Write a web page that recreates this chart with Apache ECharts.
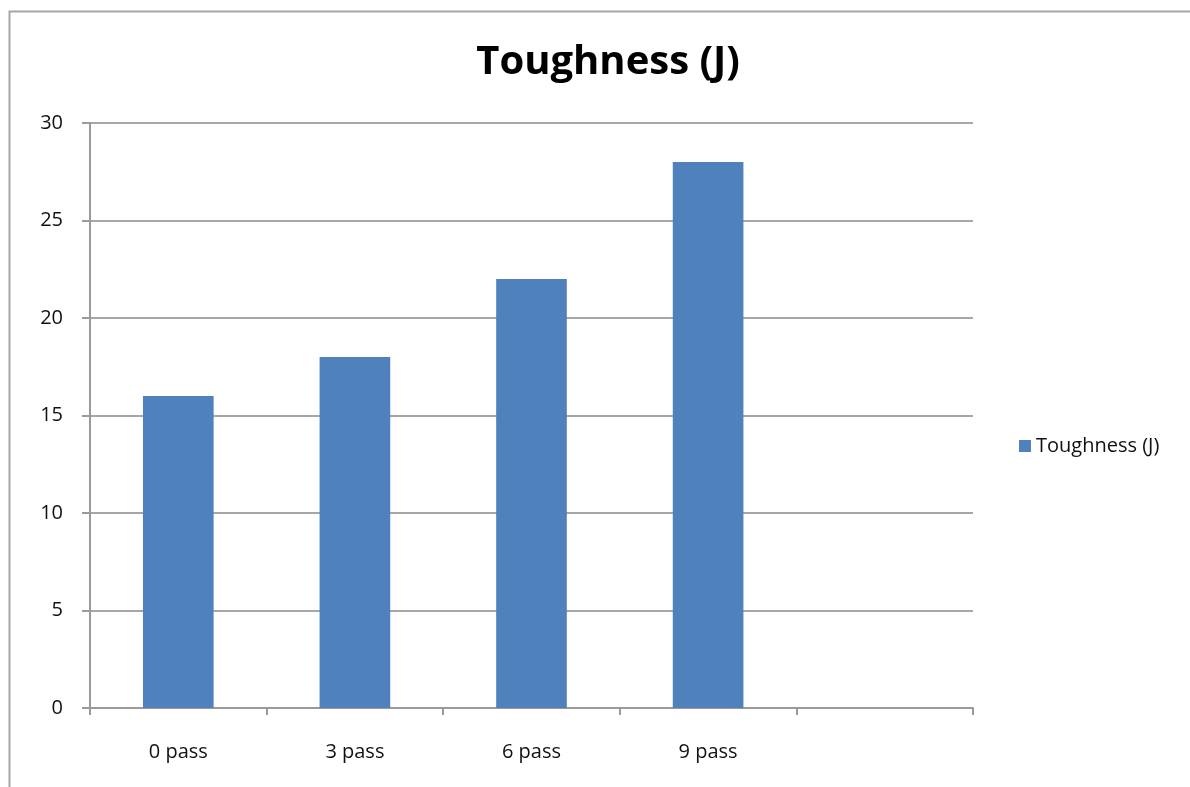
<!DOCTYPE html>
<html>
<head>
<meta charset="utf-8">
<script src="https://cdn.jsdelivr.net/npm/echarts@6/dist/echarts.min.js"></script>
<style>
html,body{margin:0;padding:0;background:#fff;}
#chart{width:1190px;height:787px;}
</style>
</head>
<body>
<div id="chart"></div>
<script>
const categories = ['0 pass', '3 pass', '6 pass', '9 pass', ''];
const toughness = [16, 18, 22, 28, null];
const seriesName = 'Toughness (J)';
const titleText = 'Toughness (J)';

const chart = echarts.init(document.getElementById('chart'));
const font = '"Open Sans", Lato, sans-serif';
chart.setOption({
  animation: false,
  backgroundColor: '#ffffff',
  graphic: [{
    type: 'rect',
    shape: { x: 9.5, y: 11.5, width: 1300, height: 900 },
    style: { fill: 'none', stroke: '#a6a6a6', lineWidth: 2 },
    silent: true, z: -1
  }],
  title: {
    text: titleText,
    left: 603, top: 38,
    textAlign: 'center',
    textStyle: { fontFamily: font, fontWeight: 'bold', fontSize: 40, color: '#000' }
  },
  legend: {
    data: [seriesName],
    left: 1014, top: 431,
    itemWidth: 12, itemHeight: 12, itemGap: 9,
    icon: 'rect',
    textStyle: { fontFamily: font, fontSize: 20, color: '#111' }
  },
  grid: { left: 90, right: 217, top: 123, bottom: 79, containLabel: false },
  xAxis: {
    type: 'category',
    data: categories,
    boundaryGap: true,
    axisLine: { lineStyle: { color: '#9a9a9a', width: 2 } },
    axisTick: { show: true, length: 7, alignWithLabel: false, lineStyle: { color: '#9a9a9a', width: 2 } },
    axisLabel: { fontFamily: font, fontSize: 20, color: '#111', margin: 34, interval: 0 }
  },
  yAxis: {
    type: 'value',
    min: 0, max: 30, interval: 5,
    axisLine: { show: true, lineStyle: { color: '#9a9a9a', width: 2 } },
    axisTick: { show: true, length: 8, lineStyle: { color: '#9a9a9a', width: 2 } },
    axisLabel: { fontFamily: font, fontSize: 20, color: '#111', margin: 27 },
    splitLine: { show: true, lineStyle: { color: '#a6a6a6', width: 2 } }
  },
  series: [{
    name: seriesName,
    type: 'bar',
    data: toughness,
    barWidth: '40%',
    itemStyle: { color: '#4F81BD' }
  }]
});
</script>
</body>
</html>
